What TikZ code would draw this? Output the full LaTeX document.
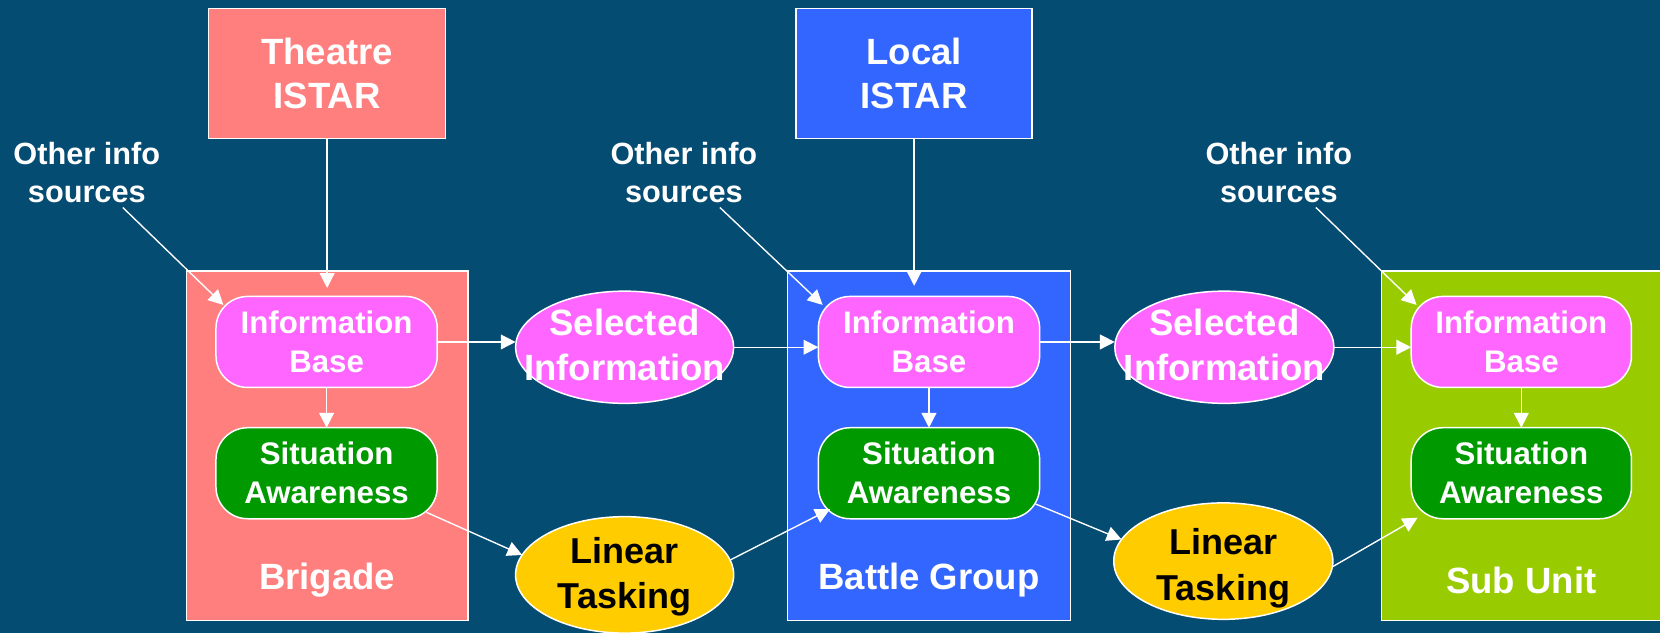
\documentclass[tikz,border=0pt]{standalone}
\usepackage{fontspec}
\setmainfont{Liberation Sans}
\usetikzlibrary{shapes.geometric,arrows.meta,calc}
\definecolor{bgblue}{HTML}{044C72}
\definecolor{salmon}{HTML}{FF7F7F}
\definecolor{royal}{HTML}{3366FF}
\definecolor{lime}{HTML}{99CC00}
\definecolor{magenta}{HTML}{FF66FF}
\definecolor{sagreen}{HTML}{009900}
\definecolor{amber}{HTML}{FFCC00}
\begin{document}
\begin{tikzpicture}[x=1pt,y=-1pt,
  every node/.style={inner sep=0pt, outer sep=0pt},
  topbox/.style={draw=white, line width=1.4pt, minimum width=224pt, minimum height=123pt, text=white, align=center, font=\fontsize{34.5}{41}\selectfont\bfseries},
  cont/.style={draw=white, line width=1.4pt, minimum height=330pt},
  ibbox/.style={draw=white, line width=1.4pt, fill=magenta, rounded corners=30pt, minimum width=209pt, minimum height=86pt, text=white, align=center, font=\fontsize{29.5}{37}\selectfont\bfseries},
  sabox/.style={ibbox, fill=sagreen},
  ell/.style={ellipse, draw=white, line width=1.4pt, minimum width=206pt},
  seltext/.style={text=white, align=center, font=\fontsize{34.5}{42}\selectfont\bfseries},
  lttext/.style={text=black, align=center, font=\fontsize{34}{43}\selectfont\bfseries},
  srctext/.style={text=white, align=center, font=\fontsize{29}{36}\selectfont\bfseries},
  unittext/.style={text=white, font=\fontsize{34.5}{40}\selectfont\bfseries},
  arr/.style={draw=white, line width=1.3pt, -{Triangle[length=14pt,width=14pt]}}
]
\fill[bgblue] (0,0) rectangle (1568,598);
\useasboundingbox (0,0) rectangle (1568,598);
\clip (0,0) rectangle (1568,598);

% top boxes
\node[topbox, fill=salmon] (theatre) at (309,69.5) {Theatre\\ISTAR};
\node[topbox, fill=royal, minimum width=223pt] (local) at (863.5,69.5) {Local\\ISTAR};

% containers
\node[cont, fill=salmon, minimum width=266pt] (brig) at (309,421) {};
\node[cont, fill=royal, minimum width=267pt] (bgrp) at (877.5,421) {};
\node[cont, fill=lime, minimum width=300pt] (sunit) at (1455,421) {};

\node[unittext] (brigl) at (309,548) {Brigade};
\node[unittext] (bgrpl) at (877.5,548) {Battle Group};
\node[unittext] (sunitl) at (1437,548) {Sub Unit};

% inner boxes
\node[ibbox] (ib1) at (308.5,323) {Information\\Base};
\node[sabox] (sa1) at (308.5,447) {Situation\\Awareness};
\node[ibbox] (ib2) at (877.5,323) {Information\\Base};
\node[sabox] (sa2) at (877.5,447) {Situation\\Awareness};
\node[ibbox, minimum width=208pt] (ib3) at (1437,323) {Information\\Base};
\node[sabox, minimum width=208pt] (sa3) at (1437,447) {Situation\\Awareness};

% ellipses
\node[ell, fill=magenta, minimum height=106pt] (si1) at (590,328) {};
\node[seltext] (si1t) at (590,326) {Selected\\Information};
\node[ell, fill=magenta, minimum height=106pt, minimum width=207pt] (si2) at (1156.5,328) {};
\node[seltext] (si2t) at (1156.5,326) {Selected\\Information};
\node[ell, fill=amber, minimum height=110pt] (lt1) at (590,543) {};
\node[lttext] (lt1t) at (590,545) {Linear\\Tasking};
\node[ell, fill=amber, minimum height=110pt, minimum width=207pt] (lt2) at (1155.5,530) {};
\node[lttext] (lt2t) at (1155.5,537) {Linear\\Tasking};

% other info sources
\node[srctext] (src1) at (82,163) {Other info\\sources};
\node[srctext] (src2) at (646,163) {Other info\\sources};
\node[srctext] (src3) at (1208,163) {Other info\\sources};
\coordinate (o1) at (116,196);
\coordinate (o2) at (680,196);
\coordinate (o3) at (1243,196);

% arrows
\draw[arr, shorten >=8pt] (theatre.south) -- (theatre.south |- ib1.north);
\draw[arr, shorten >=10pt] (local.south) -- (local.south |- ib2.north);
\draw[arr] (o1) -- ($(ib1.north west)+(7,8)$);
\draw[arr] (o2) -- ($(ib2.north west)+(4,8)$);
\draw[arr] (o3) -- ($(ib3.north west)+(5,8)$);

\draw[arr] (ib1.south) -- (sa1.north);
\draw[arr] (ib2.south) -- (sa2.north);
\draw[arr] (ib3.south) -- (sa3.north);

\draw[arr] (ib1.east) -- (ib1.east -| si1.west);
\draw[arr] (si1.east) -- (si1.east -| ib2.west);
\draw[arr] (ib2.east) -- (ib2.east -| si2.west);
\draw[arr] (si2.east) -- (si2.east -| ib3.west);

\draw[arr] ($(sa1.south east)+(-10,-6)$) -- (lt1.169);
\draw[arr] (lt1.8) -- ($(sa2.south west)+(11,-9)$);
\draw[arr] ($(sa2.south east)+(-4,-14)$) -- (lt2.168);
\draw[arr] (lt2.-3) -- ($(sa3.south west)+(6,-1)$);
\end{tikzpicture}
\end{document}
